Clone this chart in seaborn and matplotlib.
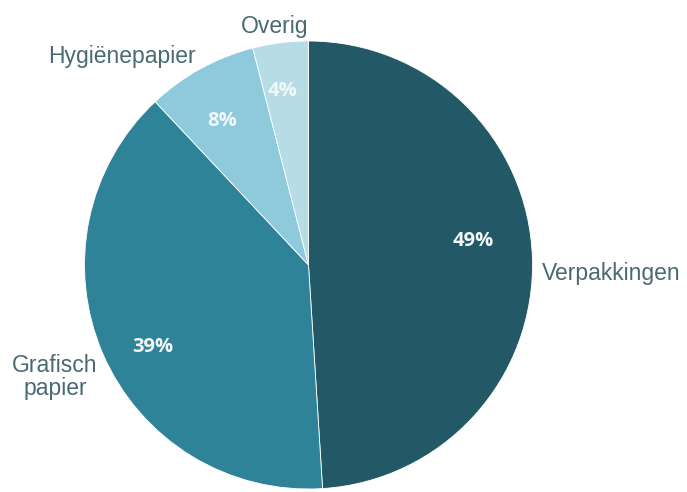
import matplotlib
matplotlib.use("Agg")
import matplotlib.pyplot as plt
import seaborn as sns

# Paper consumption by category (%)
categories = ["Verpakkingen", "Grafisch\npapier", "Hygiënepapier", "Overig"]
shares = [49, 39, 8, 4]
slice_colors = ["#235966", "#2F8399", "#8ECADB", "#B6DDE6"]

sns.set_theme(style="white")
plt.rcParams["font.family"] = ["Liberation Sans", "DejaVu Sans"]

W, H, DPI = 687, 492, 100
fig = plt.figure(figsize=(W / DPI, H / DPI), dpi=DPI)
ax = fig.add_axes([0, 0, 1, 1])

# pie centre and radius in pixels
cx, cy, r = 308.5, 265.0, 224.0


def px(x, y):
    return (x - cx) / r, (cy - y) / r


wedges, _, pct_texts = ax.pie(
    shares,
    colors=slice_colors,
    startangle=90,
    counterclock=False,
    radius=1.0,
    autopct="%d%%",
    pctdistance=0.76,
    wedgeprops=dict(edgecolor="white", linewidth=0.6),
    textprops=dict(color="#F2F8FA", fontsize=14.5, fontweight="bold",
                   family=["Open Sans", "DejaVu Sans"]),
)

# value label anchors (pixels)
pct_anchor = [(473, 241), (153, 347), (222, 121), (283, 91)]
for t, (x, y) in zip(pct_texts, pct_anchor):
    t.set_position(px(x, y))
    t.set_ha("center")
    t.set_va("center")

ax.set_aspect("auto")
ax.set_xlim(-cx / r, (W - cx) / r)
ax.set_ylim(-(H - cy) / r, cy / r)
ax.axis("off")

label_color = "#4A6A72"
label_kw = dict(color=label_color, fontsize=16.5)

ax.text(*px(542, 280), categories[0], ha="left", va="baseline", **label_kw)
ax.text(*px(55, 377), categories[1], ha="center", va="center",
        multialignment="center", linespacing=1.05, **label_kw)
ax.text(*px(122, 63), categories[2], ha="center", va="baseline", **label_kw)
ax.text(*px(275, 33), categories[3], ha="center", va="baseline", **label_kw)

fig.savefig("out.png", dpi=DPI, facecolor="white")
